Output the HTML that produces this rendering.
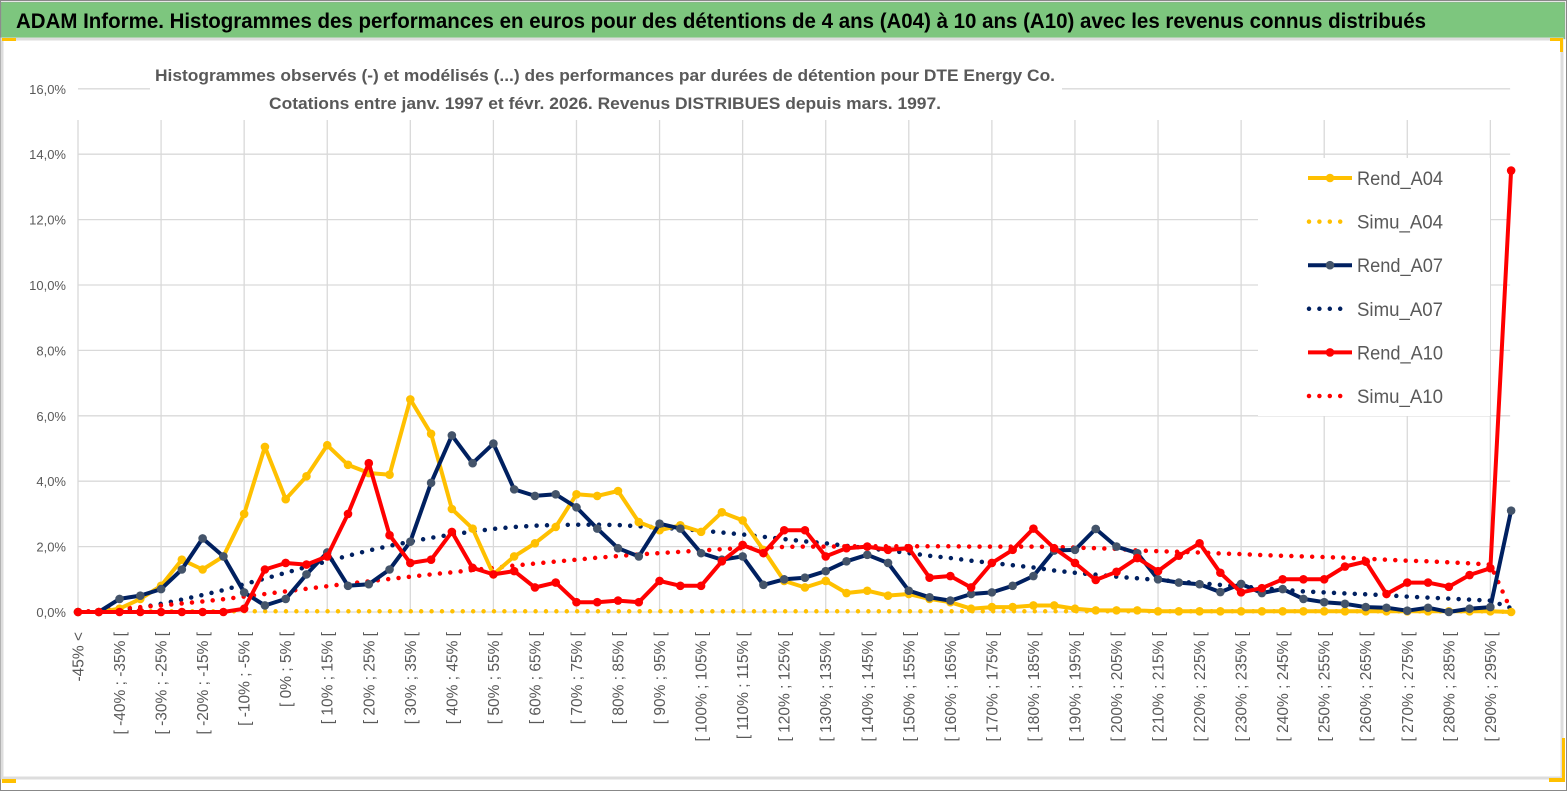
<!DOCTYPE html>
<html><head><meta charset="utf-8">
<style>
html,body{margin:0;padding:0;background:#fff;}
body{width:1567px;height:791px;overflow:hidden;position:relative;font-family:"Liberation Sans",sans-serif;}
svg text{font-family:"Liberation Sans",sans-serif;}
</style></head>
<body>
<svg id="chart" width="1567" height="791" viewBox="0 0 1567 791" xmlns="http://www.w3.org/2000/svg">
  <rect x="0.5" y="0.5" width="1566" height="790" fill="#fff" stroke="#888"/>
  <rect x="1" y="2" width="1564" height="37" fill="#7DC67E" stroke="#999" stroke-width="0.5"/>
  <text x="16" y="28" font-size="21" font-weight="bold" fill="#000" textLength="1410" lengthAdjust="spacingAndGlyphs">ADAM Informe. Histogrammes des performances en euros pour des détentions de 4 ans (A04) à 10 ans (A10) avec les revenus connus distribués</text>
  <rect x="2" y="39" width="1560" height="739" fill="#fff" stroke="#ddd" stroke-width="3"/>
  <rect x="2" y="38" width="14" height="3" fill="#FFC000"/>
  <rect x="1550" y="38" width="12" height="3" fill="#FFC000"/>
  <rect x="1560" y="38" width="3" height="14" fill="#FFC000"/>
  <rect x="2" y="779" width="14" height="4" fill="#FFC000"/>
  <rect x="1549" y="778" width="14" height="4" fill="#FFC000"/>
  <rect x="1562" y="738" width="3" height="44" fill="#FFC000"/>
  <g id="grid"></g>
  <g id="yaxis"></g>
  <g id="xaxis"></g>
  <rect x="150" y="58" width="912" height="61" fill="#fff"/>
  <text x="605" y="81" text-anchor="middle" font-size="17" font-weight="bold" fill="#595959" textLength="900" lengthAdjust="spacingAndGlyphs">Histogrammes observés (-)  et modélisés (...) des performances par durées de détention pour DTE Energy Co.</text>
  <text x="605" y="109" text-anchor="middle" font-size="17" font-weight="bold" fill="#595959" textLength="672" lengthAdjust="spacingAndGlyphs">Cotations entre janv. 1997 et févr. 2026. Revenus DISTRIBUES depuis mars. 1997.</text>
  <rect x="1258" y="158" width="232" height="258" fill="#fff"/>
  <g id="series"></g>
  <g id="legend"></g>
</svg>
<script>
const categories = ["-45% <"];
for (let k = 1; k < 70; k++) { categories.push("[ " + (-45 + 5 * (k - 1)) + "% ; " + (-40 + 5 * (k - 1)) + "% ["); }
const yTicks = [0, 2, 4, 6, 8, 10, 12, 14, 16];
const yTickLabels = ["0,0%", "2,0%", "4,0%", "6,0%", "8,0%", "10,0%", "12,0%", "14,0%", "16,0%"];
const rendA04 = [0,0,0.1,0.4,0.8,1.6,1.3,1.7,3.0,5.05,3.45,4.15,5.1,4.5,4.25,4.2,6.5,5.45,3.15,2.55,1.15,1.7,2.1,2.6,3.6,3.55,3.7,2.75,2.5,2.65,2.45,3.05,2.8,1.9,0.95,0.75,0.95,0.58,0.65,0.5,0.55,0.4,0.3,0.1,0.15,0.15,0.2,0.2,0.1,0.05,0.05,0.05,0.02,0.02,0.02,0.02,0.02,0.02,0.02,0.02,0.02,0.02,0.02,0.02,0.02,0.02,0.02,0.02,0.02,0];
const simuA04 = [0,0.02,0.02,0.02,0.02,0.02,0.02,0.02,0.02,0.02,0.02,0.02,0.02,0.02,0.02,0.02,0.02,0.02,0.02,0.02,0.02,0.02,0.02,0.02,0.02,0.02,0.02,0.02,0.02,0.02,0.02,0.02,0.02,0.02,0.02,0.02,0.02,0.02,0.02,0.02,0.02,0.02,0.02,0.02,0.02,0.02,0.02,0.02,0.02,0.02,0.02,0.02,0.02,0.02,0.02,0.02,0.02,0.02,0.02,0.02,0.02,0.02,0.02,0.02,0.02,0.02,0.02,0.02,0.02,0];
const rendA07 = [0,0,0.4,0.5,0.7,1.3,2.25,1.7,0.6,0.2,0.4,1.15,1.82,0.8,0.85,1.3,2.15,3.95,5.4,4.55,5.15,3.75,3.55,3.6,3.2,2.55,1.95,1.7,2.7,2.55,1.8,1.6,1.7,0.83,1.0,1.05,1.25,1.55,1.75,1.5,0.65,0.45,0.35,0.55,0.6,0.8,1.1,1.88,1.9,2.54,2.0,1.8,1.0,0.9,0.85,0.61,0.86,0.58,0.7,0.4,0.3,0.25,0.15,0.13,0.04,0.13,0.0,0.1,0.15,3.1];
const simuA07 = [0,0.02,0.06,0.13,0.25,0.38,0.52,0.67,0.85,1.02,1.2,1.38,1.55,1.72,1.88,2.02,2.15,2.27,2.37,2.46,2.54,2.6,2.64,2.66,2.67,2.67,2.66,2.62,2.58,2.54,2.49,2.43,2.37,2.3,2.23,2.16,2.1,2.02,1.95,1.88,1.8,1.72,1.65,1.57,1.5,1.43,1.36,1.27,1.2,1.14,1.08,1.03,0.98,0.93,0.88,0.83,0.78,0.73,0.68,0.63,0.6,0.57,0.54,0.51,0.47,0.44,0.41,0.38,0.35,0.12];
const rendA10 = [0,0,0,0,0,0,0,0,0.1,1.3,1.5,1.45,1.7,3.0,4.55,2.35,1.5,1.6,2.45,1.35,1.15,1.25,0.75,0.9,0.3,0.3,0.35,0.3,0.95,0.8,0.8,1.55,2.05,1.8,2.5,2.5,1.7,1.95,2.0,1.9,1.95,1.05,1.1,0.75,1.5,1.9,2.55,1.95,1.5,0.98,1.23,1.65,1.25,1.72,2.1,1.2,0.6,0.73,1.0,1.0,1.0,1.39,1.54,0.55,0.9,0.9,0.77,1.13,1.34,13.5];
const simuA10 = [0,0.05,0.1,0.15,0.2,0.26,0.32,0.39,0.47,0.55,0.63,0.71,0.79,0.87,0.94,1.01,1.08,1.15,1.21,1.28,1.35,1.42,1.48,1.54,1.6,1.66,1.71,1.76,1.8,1.84,1.88,1.92,1.95,1.97,1.99,2.0,2.0,2.01,2.01,2.01,2.01,2.01,2.01,2.0,2.0,2.0,2.0,1.99,1.97,1.95,1.93,1.88,1.86,1.84,1.82,1.79,1.77,1.74,1.72,1.7,1.68,1.66,1.63,1.6,1.57,1.55,1.52,1.49,1.45,0.05];

const NS = "http://www.w3.org/2000/svg";
const X0 = 78, DX = 20.77, Y0 = 612, PPU = 32.7;
function xPos(i) { return X0 + i * DX; }
function yPos(v) { return Y0 - v * PPU; }
function mk(tag, parent, attrs) { const e = document.createElementNS(NS, tag); for (const k in attrs) e.setAttribute(k, attrs[k]); parent.appendChild(e); return e; }

const grid = document.getElementById('grid');
yTicks.forEach(function (t) {
  const l = mk('line', grid, {x1: X0, x2: xPos(69) - 1, y1: yPos(t), y2: yPos(t), stroke: '#d9d9d9', 'stroke-width': 1.3});
  
  
});
for (let i = 0; i < 70; i += 4) {
  const l = mk('line', grid, {x1: xPos(i), x2: xPos(i), y1: 120, y2: Y0, stroke: '#d9d9d9', 'stroke-width': 1.3});
  
  
}
const yaxis = document.getElementById('yaxis');
yTicks.forEach(function (t, j) {
  const tx = mk('text', yaxis, {x: 66, y: yPos(t) + 5, 'text-anchor': 'end', 'font-size': 13, fill: '#595959'});
  tx.textContent = yTickLabels[j];
  
  
});
const xaxis = document.getElementById('xaxis');
categories.forEach(function (c, i) {
  if (i % 2) return;
  const x = xPos(i) + 5.5;
  const tx = mk('text', xaxis, {x: x, y: 632, transform: 'rotate(-90 ' + x + ' 632)', 'text-anchor': 'end', 'font-size': 15.5, fill: '#595959'});
  tx.textContent = c;
  
  
});

const series = document.getElementById('series');
function pts(arr) { return arr.map(function (v, i) { return xPos(i).toFixed(1) + ',' + yPos(v).toFixed(1); }).join(' '); }
function dotted(arr, color, name) {
  const p = mk('polyline', series, {points: pts(arr), fill: 'none', stroke: color, 'stroke-width': 4.5, 'stroke-linecap': 'round', 'stroke-dasharray': '0 10.4'});
  
  
}
function solid(arr, color, mcolor, name) {
  const g = mk('g', series, {});
  
  
  mk('polyline', g, {points: pts(arr), fill: 'none', stroke: color, 'stroke-width': 4, 'stroke-linejoin': 'round'});
  arr.forEach(function (v, i) {
    const c = mk('circle', g, {cx: xPos(i), cy: yPos(v), r: 4.3, fill: mcolor});
    
    
  });
}
dotted(simuA04, '#FFC000', 'simu-a04-line');
dotted(simuA07, '#002060', 'simu-a07-line');
dotted(simuA10, '#FF0000', 'simu-a10-line');
solid(rendA04, '#FFC000', '#FFC000', 'rend-a04');
solid(rendA07, '#002060', '#44546A', 'rend-a07');
solid(rendA10, '#FF0000', '#FF0000', 'rend-a10');

const legend = document.getElementById('legend');
const legItems = [["Rend_A04", '#FFC000', '#FFC000', false], ["Simu_A04", '#FFC000', null, true], ["Rend_A07", '#002060', '#44546A', false], ["Simu_A07", '#002060', null, true], ["Rend_A10", '#FF0000', '#FF0000', false], ["Simu_A10", '#FF0000', null, true]];
legItems.forEach(function (it, j) {
  const y = 178 + j * 43.6;
  const g = mk('g', legend, {});
  
  
  if (it[3]) {
    mk('line', g, {x1: 1309, x2: 1350, y1: y, y2: y, stroke: it[1], 'stroke-width': 4.5, 'stroke-linecap': 'round', 'stroke-dasharray': '0 10.4'});
  } else {
    mk('line', g, {x1: 1308, x2: 1352, y1: y, y2: y, stroke: it[1], 'stroke-width': 4});
    mk('circle', g, {cx: 1330, cy: y, r: 4.3, fill: it[2]});
  }
  const t = mk('text', g, {x: 1357, y: y + 7, 'font-size': 19, fill: '#595959', textLength: 86, lengthAdjust: 'spacingAndGlyphs'});
  t.textContent = it[0];
});
</script>
</body></html>
